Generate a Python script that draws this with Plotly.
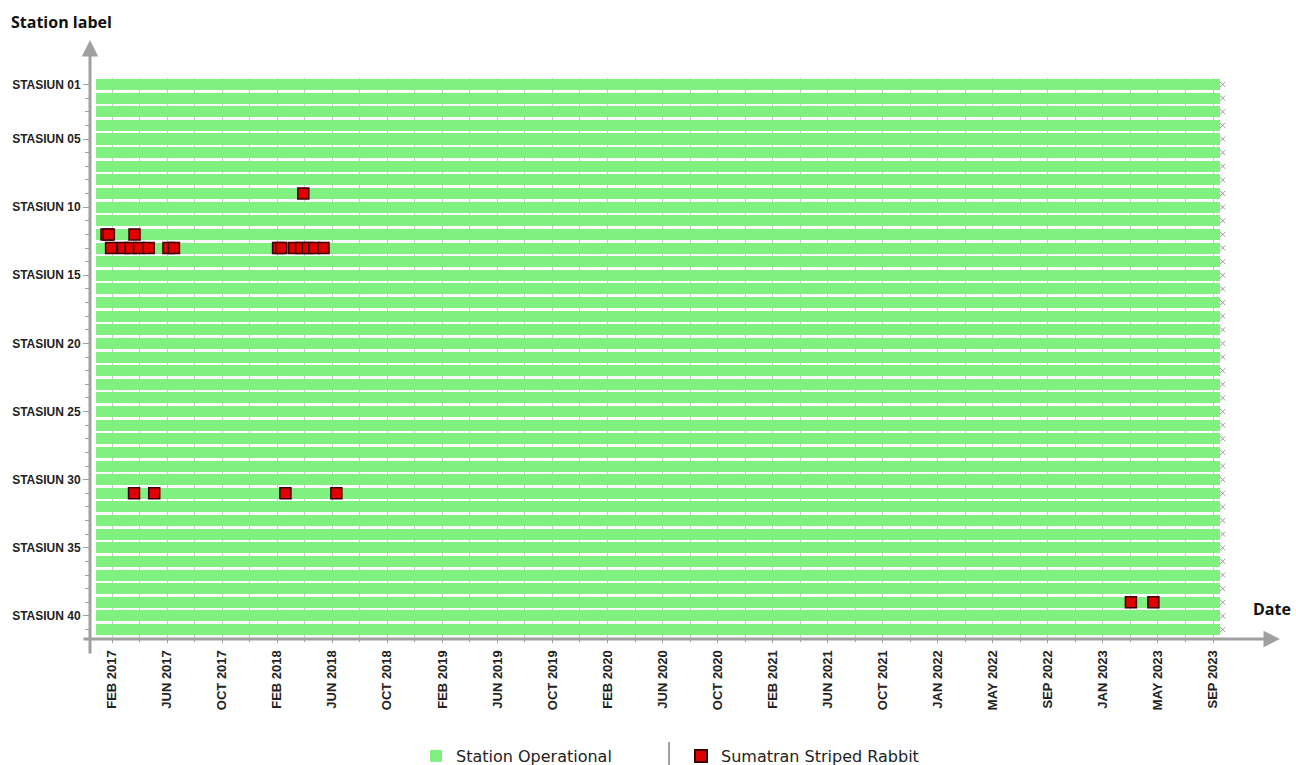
import plotly.graph_objects as go
import pandas as pd

# ---------------- data ----------------
station_labels = ["STASIUN %02d" % i for i in range(1, 42)]
station_start = ["2017-01-20"] * len(station_labels)
station_end = ["2023-10-07"] * len(station_labels)
station_check = ["2023-10-13"] * len(station_labels)

label_ticks = ["STASIUN 01", "STASIUN 05", "STASIUN 10", "STASIUN 15", "STASIUN 20",
               "STASIUN 25", "STASIUN 30", "STASIUN 35", "STASIUN 40"]

x_tick_labels = ["FEB 2017", "JUN 2017", "OCT 2017", "FEB 2018", "JUN 2018", "OCT 2018",
                 "FEB 2019", "JUN 2019", "OCT 2019", "FEB 2020", "JUN 2020", "OCT 2020",
                 "FEB 2021", "JUN 2021", "OCT 2021", "JAN 2022", "MAY 2022", "SEP 2022",
                 "JAN 2023", "MAY 2023", "SEP 2023"]

det_station = ["STASIUN 12", "STASIUN 12", "STASIUN 12",
               "STASIUN 13", "STASIUN 13", "STASIUN 13", "STASIUN 13", "STASIUN 13",
               "STASIUN 13", "STASIUN 13",
               "STASIUN 13", "STASIUN 13", "STASIUN 13", "STASIUN 13", "STASIUN 13",
               "STASIUN 13", "STASIUN 13",
               "STASIUN 09",
               "STASIUN 31", "STASIUN 31", "STASIUN 31", "STASIUN 31",
               "STASIUN 39", "STASIUN 39"]
det_date = ["2017-02-13", "2017-02-18", "2017-04-15",
            "2017-02-23", "2017-03-21", "2017-04-07", "2017-04-25", "2017-05-16",
            "2017-06-28", "2017-07-10",
            "2018-02-22", "2018-03-01", "2018-03-29", "2018-04-13", "2018-04-28",
            "2018-05-12", "2018-06-01",
            "2018-04-18",
            "2017-04-14", "2017-05-28", "2018-03-10", "2018-06-29",
            "2023-03-27", "2023-05-15"]

# ---------------- derived ----------------
y_pos = list(range(1, len(station_labels) + 1))
starts = pd.to_datetime(station_start)
ends = pd.to_datetime(station_end)
durations_ms = [(e - s).total_seconds() * 1000 for s, e in zip(starts, ends)]
det_y = [station_labels.index(s) + 1 for s in det_station]
label_tick_vals = [station_labels.index(s) + 1 for s in label_ticks]
tick_dates = pd.date_range("2017-02-25", periods=len(x_tick_labels), freq="120D")
tick_vals = [d.strftime("%Y-%m-%d") for d in tick_dates]

GREEN = "#80F080"
GRAY = "#A0A0A0"
W, H = 1296, 765
L, R, T, B = 90, 1230, 78, 638
pw, ph = R - L, B - T


def px_x(x):
    return (x - L) / pw


def px_y(y):
    return (B - y) / ph


fig = go.Figure()

fig.add_trace(go.Bar(
    y=y_pos, x=durations_ms, base=station_start, orientation="h",
    width=0.81, marker=dict(color=GREEN, line=dict(width=0)),
    name="Station Operational", showlegend=True,
))

fig.add_trace(go.Scatter(
    x=station_check, y=y_pos, mode="markers",
    marker=dict(symbol="x-thin", size=5, line=dict(color="#999999", width=1)),
    showlegend=False, cliponaxis=False, hoverinfo="skip",
))

fig.add_trace(go.Scatter(
    x=det_date, y=det_y, mode="markers", name="Sumatran Striped Rabbit",
    marker=dict(symbol="square", size=11, color="#E00000",
                line=dict(color="#3A0000", width=1.5)),
))

fig.update_layout(
    width=W, height=H,
    margin=dict(l=L, r=W - R, t=T, b=H - B, autoexpand=False),
    paper_bgcolor="white", plot_bgcolor="white",
    font=dict(family="Liberation Sans, Arial, sans-serif", color="#222222"),
    showlegend=True,
    legend=dict(orientation="h", x=px_x(681), xanchor="center",
                y=px_y(739), yanchor="top", bgcolor="rgba(0,0,0,0)",
                font=dict(family="DejaVu Sans, sans-serif", size=16, color="#222222"),
                entrywidth=220, entrywidthmode="pixels",
                itemsizing="constant", traceorder="normal"),
    xaxis=dict(
        type="date", range=["2017-01-08", "2023-10-29"], automargin=False,
        tickmode="array", tickvals=tick_vals, ticktext=x_tick_labels,
        tickangle=-90, tickfont=dict(size=13, color="#222222", weight="bold"),
        ticks="outside", ticklen=4, tickcolor=GRAY, ticklabelstandoff=2,
        showgrid=True, gridcolor="#C8C8C8", gridwidth=1,
        minor=dict(tick0="2017-02-25", dtick=60 * 86400000, showgrid=True,
                   gridcolor="#C8C8C8", ticks="outside", ticklen=3, tickcolor=GRAY),
        showline=False, zeroline=False, fixedrange=True,
    ),
    yaxis=dict(
        range=[41.62, 0.523], automargin=False, tickmode="array", tickvals=label_tick_vals,
        ticktext=label_ticks, tickfont=dict(size=12, color="#222222", weight="bold"),
        ticks="outside", ticklen=6, tickcolor=GRAY,
        minor=dict(dtick=1, tick0=0, ticks="outside", ticklen=4, tickcolor=GRAY,
                   showgrid=False),
        showgrid=False, showline=False, zeroline=False, fixedrange=True,
    ),
    bargap=0,
)

# axis arrows
fig.add_annotation(xref="paper", yref="paper", x=px_x(90), y=px_y(40), text="",
                   showarrow=True, ax=0, ay=615, arrowhead=2, arrowsize=1.1,
                   arrowwidth=3, arrowcolor=GRAY)
fig.add_annotation(xref="paper", yref="paper", x=px_x(1280), y=px_y(639), text="",
                   showarrow=True, ax=-1198, ay=0, arrowhead=2, arrowsize=1.1,
                   arrowwidth=3, arrowcolor=GRAY)

# axis titles
fig.add_annotation(xref="paper", yref="paper", x=px_x(9), y=px_y(22), text="<b>Station label</b>",
                   showarrow=False, xanchor="left", yanchor="middle",
                   font=dict(family="Open Sans, sans-serif", size=16, color="#111111"))
fig.add_annotation(xref="paper", yref="paper", x=px_x(1251), y=px_y(609), text="<b>Date</b>",
                   showarrow=False, xanchor="left", yanchor="middle",
                   font=dict(family="Open Sans, sans-serif", size=16, color="#111111"))

# legend separator
fig.add_shape(type="line", xref="paper", yref="paper",
              x0=px_x(669), x1=px_x(669), y0=px_y(742), y1=px_y(765),
              line=dict(color="#444444", width=1))

fig.write_html("out.html", config={"displayModeBar": False},
               post_script="document.body.style.margin='0';document.body.style.padding='0';")
